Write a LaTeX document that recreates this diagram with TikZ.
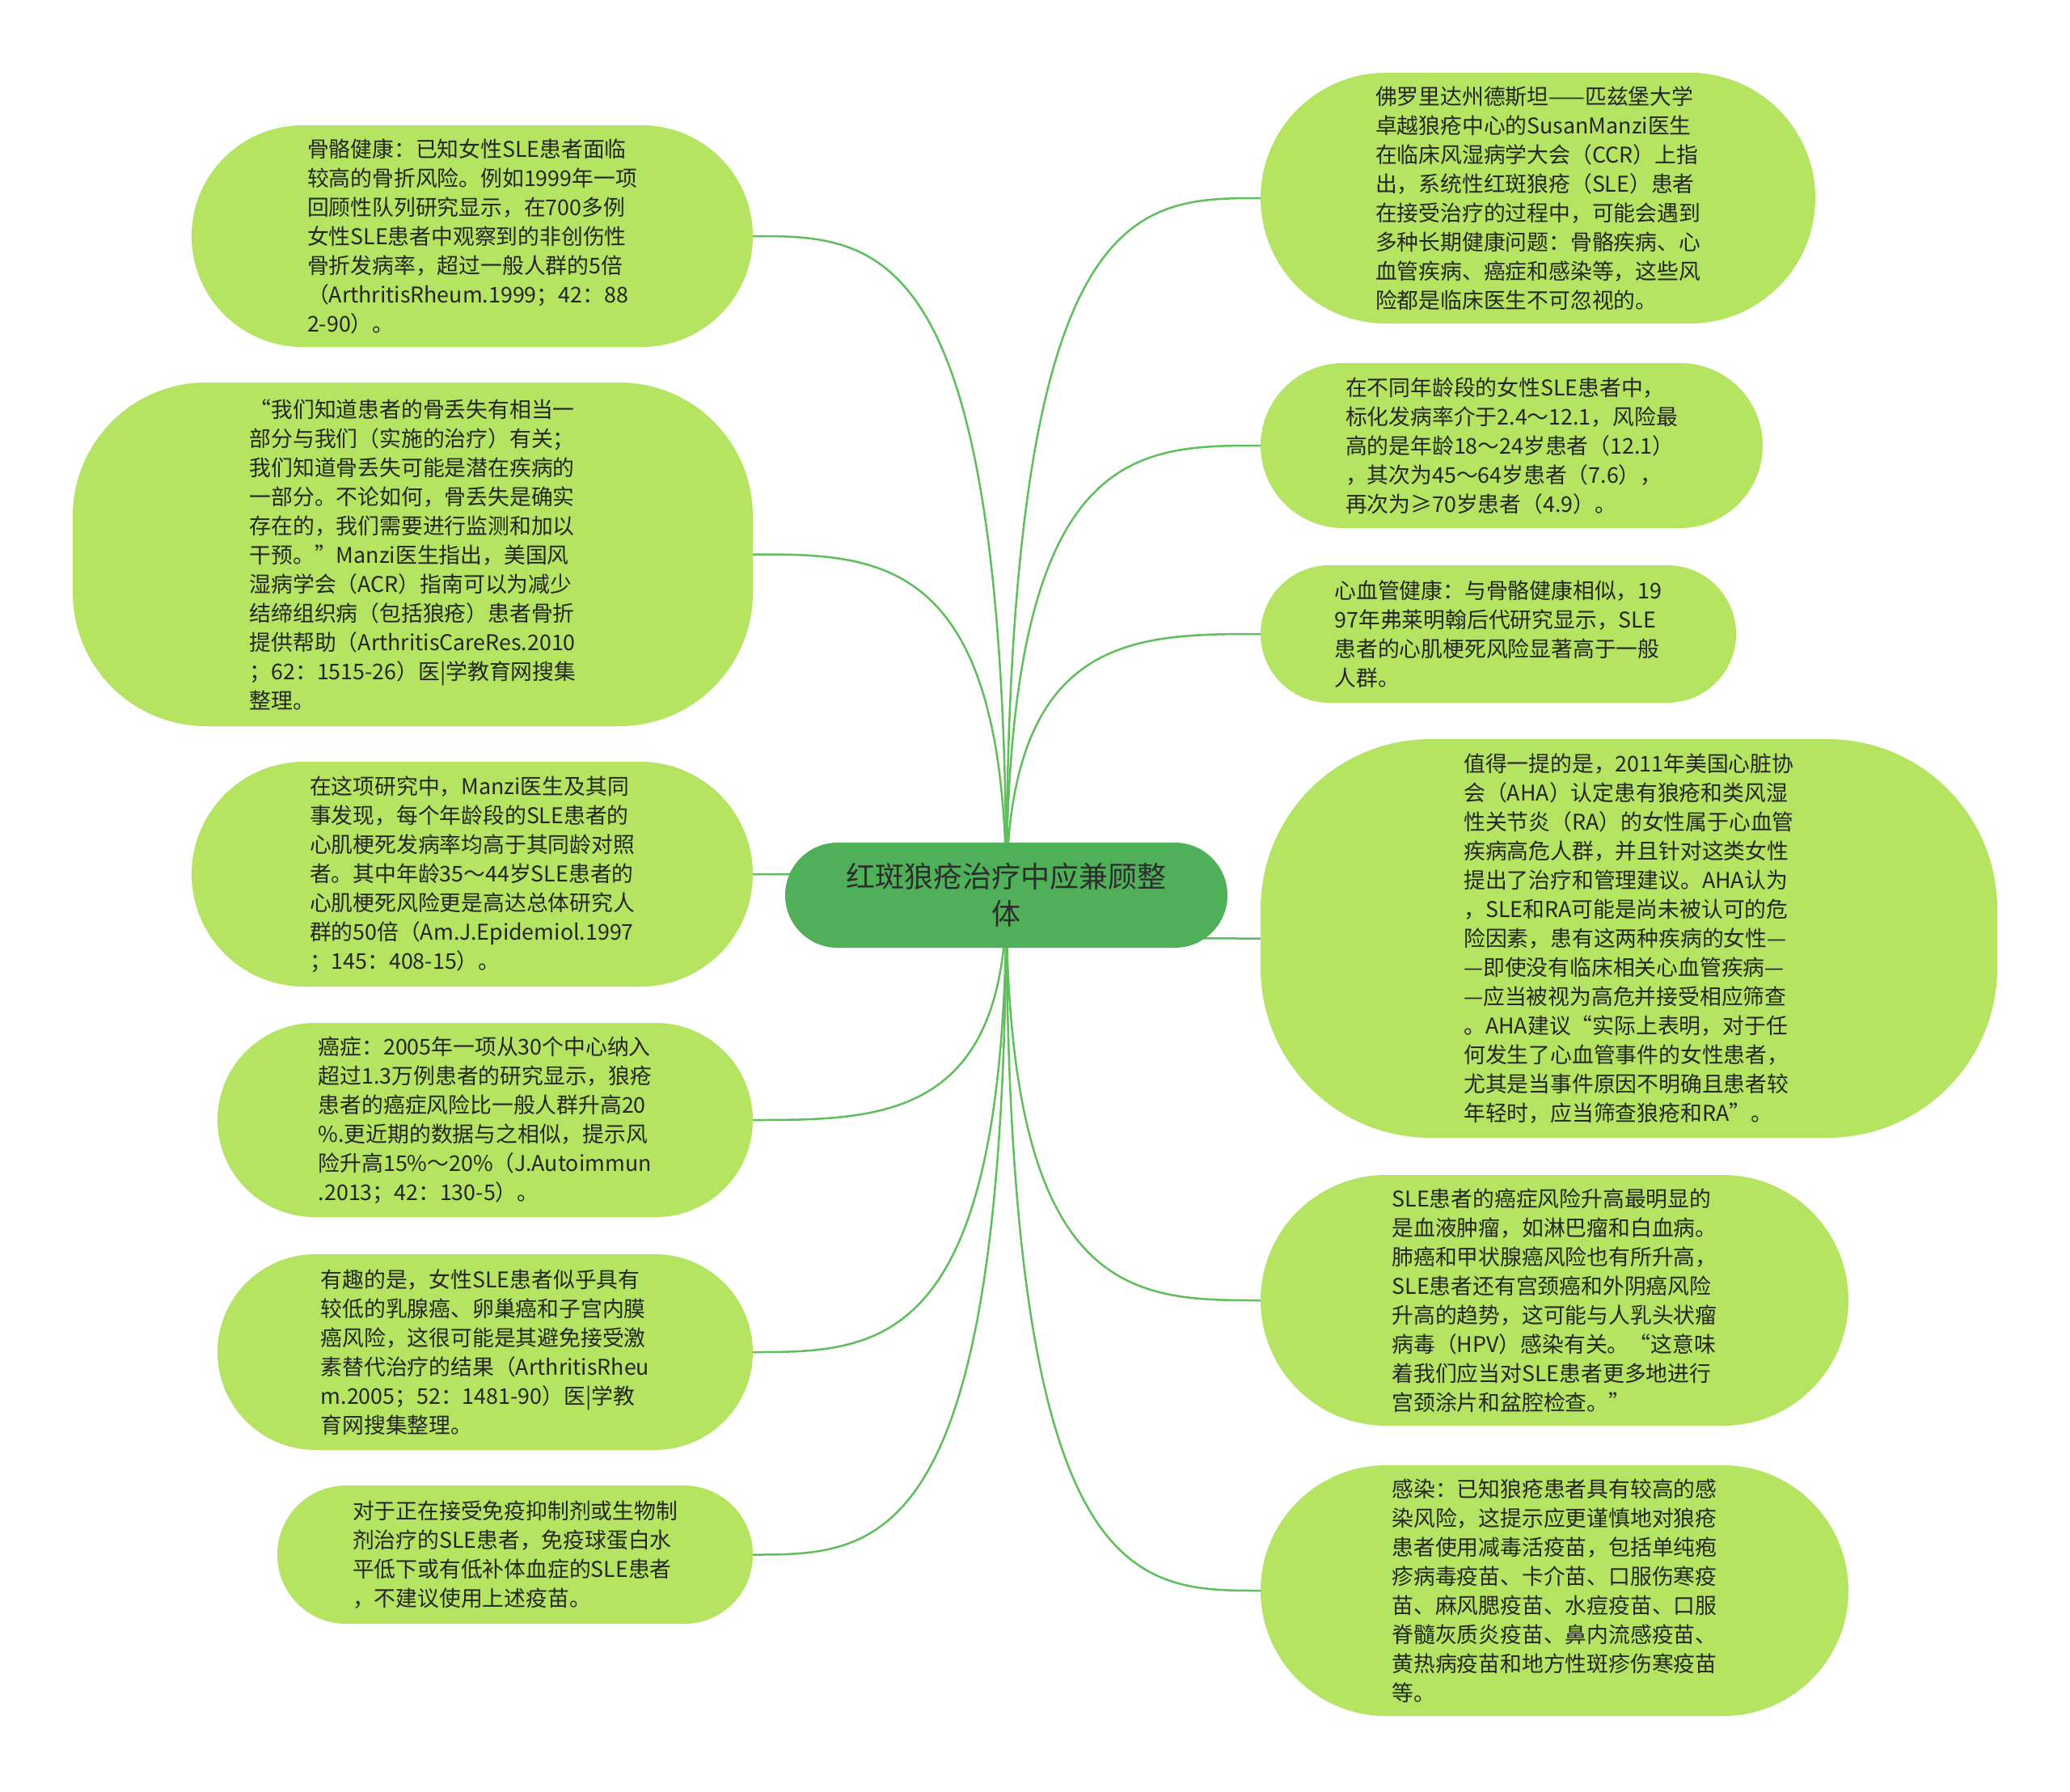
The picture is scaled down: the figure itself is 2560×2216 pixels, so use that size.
\documentclass[tikz,border=0pt]{standalone}
\usepackage{fontspec}
\setmainfont{Noto Sans CJK SC}
\usetikzlibrary{calc,backgrounds}
\definecolor{leaffill}{RGB}{180,228,98}
\definecolor{rootfill}{RGB}{80,176,90}
\definecolor{linegreen}{RGB}{96,190,92}
\definecolor{txt}{RGB}{38,38,38}
\definecolor{rtxt}{RGB}{45,45,45}
\newcommand\cjkql{{\addfontfeature{CharacterWidth=Full}“}}
\newcommand\cjkqr{{\addfontfeature{CharacterWidth=Full}”}}
\begin{document}
\begin{tikzpicture}[x=1pt,y=-1pt,
  leaf/.style={fill=leaffill, text=txt, align=left, inner sep=0pt,
    font=\fontsize{26.8}{36}\selectfont},
  root/.style={fill=rootfill, text=rtxt, align=center, inner sep=0pt,
    font=\fontsize{36}{46}\selectfont},
  conn/.style={draw=linegreen, line width=2.5pt}]
\useasboundingbox (0,0) rectangle (2560,2216);

% centre
\node[root, minimum width=547, minimum height=130, rounded corners=65] (c) at (1244.5,1107)
  {红斑狼疮治疗中应兼顾整\\体};

% left leaves
\node[leaf, minimum width=694, minimum height=274, rounded corners=137] (n1) at (584,292) {%
骨骼健康：已知女性SLE患者面临\\
较高的骨折风险。例如1999年一项\\
回顾性队列研究显示，在700多例\\
女性SLE患者中观察到的非创伤性\\
骨折发病率，超过一般人群的5倍\\
（ArthritisRheum.1999；42：88\\
2-90）。};

\node[leaf, minimum width=841, minimum height=425, rounded corners=165] (n2) at (510.5,685.5) {%
\cjkql 我们知道患者的骨丢失有相当一\\
部分与我们（实施的治疗）有关；\\
我们知道骨丢失可能是潜在疾病的\\
一部分。不论如何，骨丢失是确实\\
存在的，我们需要进行监测和加以\\
干预。\cjkqr Manzi医生指出，美国风\\
湿病学会（ACR）指南可以为减少\\
结缔组织病（包括狼疮）患者骨折\\
提供帮助（ArthritisCareRes.2010\\
；62：1515-26）医|学教育网搜集\\
整理。};

\node[leaf, minimum width=694, minimum height=278, rounded corners=139] (n3) at (584,1081) {%
在这项研究中，Manzi医生及其同\\
事发现，每个年龄段的SLE患者的\\
心肌梗死发病率均高于其同龄对照\\
者。其中年龄35～44岁SLE患者的\\
心肌梗死风险更是高达总体研究人\\
群的50倍（Am.J.Epidemiol.1997\\
；145：408-15）。};

\node[leaf, minimum width=662, minimum height=240, rounded corners=120] (n4) at (600,1385) {%
癌症：2005年一项从30个中心纳入\\
超过1.3万例患者的研究显示，狼疮\\
患者的癌症风险比一般人群升高20\\
\%.更近期的数据与之相似，提示风\\
险升高15\%～20\%（J.Autoimmun\\
.2013；42：130-5）。};

\node[leaf, minimum width=662, minimum height=242, rounded corners=121] (n5) at (600,1672) {%
有趣的是，女性SLE患者似乎具有\\
较低的乳腺癌、卵巢癌和子宫内膜\\
癌风险，这很可能是其避免接受激\\
素替代治疗的结果（ArthritisRheu\\
m.2005；52：1481-90）医|学教\\
育网搜集整理。};

\node[leaf, minimum width=588, minimum height=171, rounded corners=85] (n6) at (637,1922.5) {%
对于正在接受免疫抑制剂或生物制\\
剂治疗的SLE患者，免疫球蛋白水\\
平低下或有低补体血症的SLE患者\\
，不建议使用上述疫苗。};

% right leaves
\node[leaf, minimum width=686, minimum height=310, rounded corners=155] (n7) at (1902,245) {%
佛罗里达州德斯坦——匹兹堡大学\\
卓越狼疮中心的SusanManzi医生\\
在临床风湿病学大会（CCR）上指\\
出，系统性红斑狼疮（SLE）患者\\
在接受治疗的过程中，可能会遇到\\
多种长期健康问题：骨骼疾病、心\\
血管疾病、癌症和感染等，这些风\\
险都是临床医生不可忽视的。};

\node[leaf, minimum width=621, minimum height=204, rounded corners=102] (n8) at (1869.5,551) {%
在不同年龄段的女性SLE患者中，\\
标化发病率介于2.4～12.1，风险最\\
高的是年龄18～24岁患者（12.1）\\
，其次为45～64岁患者（7.6），\\
再次为≥70岁患者（4.9）。};

\node[leaf, minimum width=588, minimum height=170, rounded corners=85] (n9) at (1853,784) {%
心血管健康：与骨骼健康相似，19\\
97年弗莱明翰后代研究显示，SLE\\
患者的心肌梗死风险显著高于一般\\
人群。};

\node[leaf, minimum width=911, minimum height=493, rounded corners=210] (n10) at (2014.5,1160.5) {%
值得一提的是，2011年美国心脏协\\
会（AHA）认定患有狼疮和类风湿\\
性关节炎（RA）的女性属于心血管\\
疾病高危人群，并且针对这类女性\\
提出了治疗和管理建议。AHA认为\\
，SLE和RA可能是尚未被认可的危\\
险因素，患有这两种疾病的女性—\\
—即使没有临床相关心血管疾病—\\
—应当被视为高危并接受相应筛查\\
。AHA建议\cjkql 实际上表明，对于任\\
何发生了心血管事件的女性患者，\\
尤其是当事件原因不明确且患者较\\
年轻时，应当筛查狼疮和RA\cjkqr 。};

\node[leaf, minimum width=727, minimum height=310, rounded corners=155] (n11) at (1922.5,1608) {%
SLE患者的癌症风险升高最明显的\\
是血液肿瘤，如淋巴瘤和白血病。\\
肺癌和甲状腺癌风险也有所升高，\\
SLE患者还有宫颈癌和外阴癌风险\\
升高的趋势，这可能与人乳头状瘤\\
病毒（HPV）感染有关。\cjkql 这意味\\
着我们应当对SLE患者更多地进行\\
宫颈涂片和盆腔检查。\cjkqr};

\node[leaf, minimum width=727, minimum height=310, rounded corners=155] (n12) at (1922.5,1967) {%
感染：已知狼疮患者具有较高的感\\
染风险，这提示应更谨慎地对狼疮\\
患者使用减毒活疫苗，包括单纯疱\\
疹病毒疫苗、卡介苗、口服伤寒疫\\
苗、麻风腮疫苗、水痘疫苗、口服\\
脊髓灰质炎疫苗、鼻内流感疫苗、\\
黄热病疫苗和地方性斑疹伤寒疫苗\\
等。};

\begin{scope}[on background layer]
\fill[white] (0,0) rectangle (2560,2216);
\foreach \n in {n1,n2,n3,n4,n5,n6} {
  \draw[conn] (c.center) .. controls (c.center |- \n.east) and ($(c.center |- \n.east)!0.5!(\n.east)$) .. (\n.east);
}
\foreach \n in {n7,n8,n9,n10,n11,n12} {
  \draw[conn] (c.center) .. controls (c.center |- \n.west) and ($(c.center |- \n.west)!0.5!(\n.west)$) .. (\n.west);
}
\end{scope}
\end{tikzpicture}
\end{document}
